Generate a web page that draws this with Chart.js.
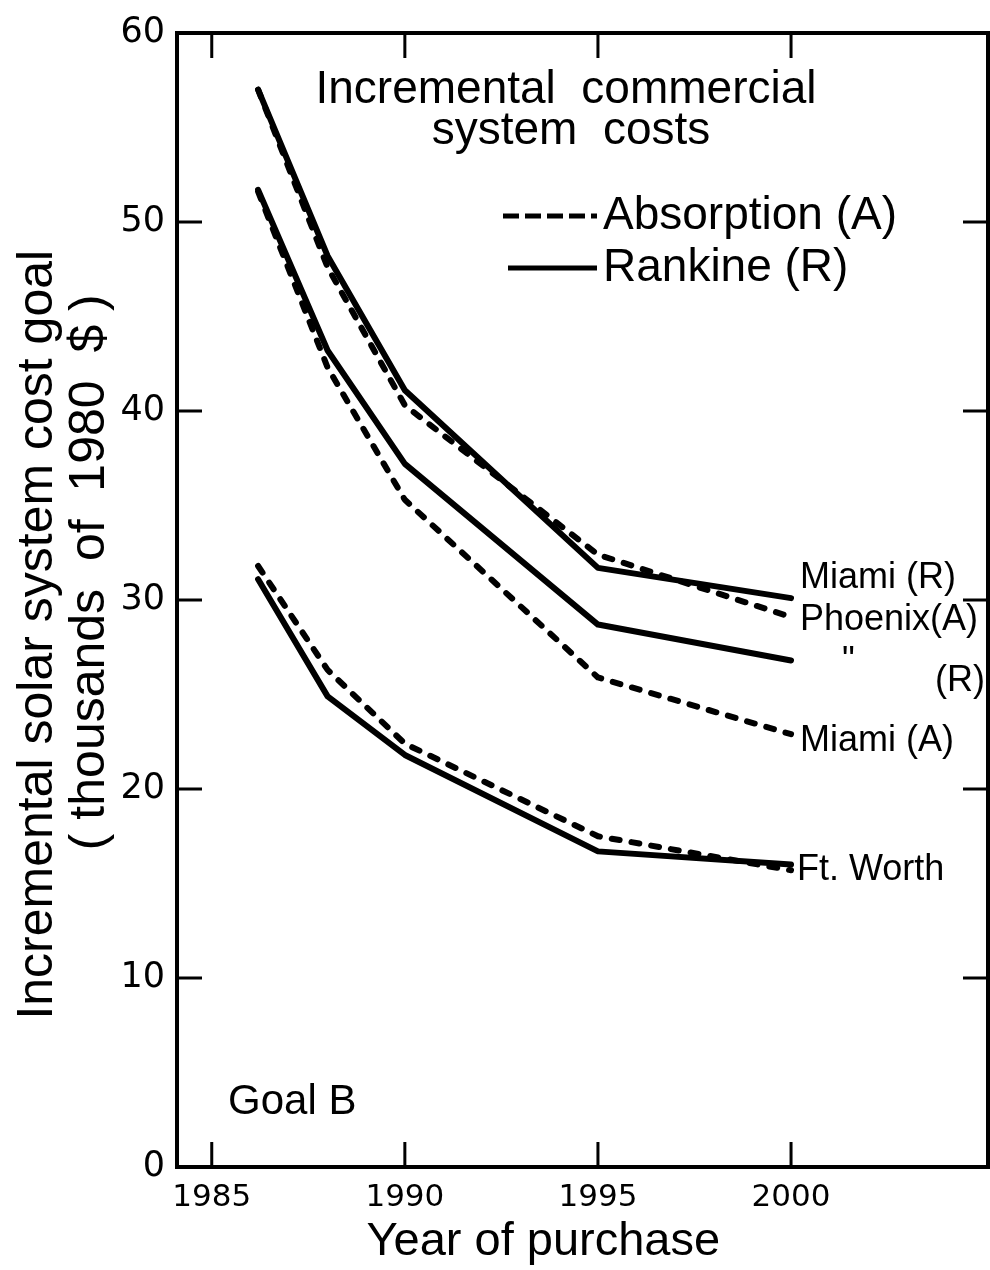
<!DOCTYPE html>
<html>
<head>
<meta charset="utf-8">
<script src="https://cdn.jsdelivr.net/npm/chart.js@4/dist/chart.umd.min.js"></script>
<style>
  html, body { margin: 0; padding: 0; background: #fff; }
  canvas { display: block; }
</style>
</head>
<body>
<canvas id="costChart" width="990" height="1270"></canvas>
<script>
// data (thousands of 1980 $)
const years = [1986.2, 1988, 1990, 1995, 2000];
const miamiR = [57.0, 48.2, 41.1, 31.7, 30.1];
const phoenixA = [57.0, 47.6, 40.3, 32.4, 29.1];
const phoenixR = [51.7, 43.2, 37.2, 28.7, 26.8];
const miamiA = [51.6, 42.3, 35.3, 25.9, 22.9];
const ftWorthA = [31.8, 26.3, 22.4, 17.5, 15.7];
const ftWorthR = [31.1, 24.9, 21.8, 16.7, 16.0];

const xTicks = [1985, 1990, 1995, 2000];
const yTicks = [0, 10, 20, 30, 40, 50, 60];

const FONT = "'Liberation Sans', Arial, sans-serif";
const NUM_FONT = "'DejaVu Sans', sans-serif";
const INK = '#000';

function pts(vals) {
  return vals.map((v, i) => ({ x: years[i], y: v }));
}

function series(label, vals, dashed) {
  return {
    label: label,
    data: pts(vals),
    borderColor: INK,
    borderWidth: 6,
    borderDash: dashed ? [8, 12] : [],
    borderCapStyle: 'round',
    borderJoinStyle: 'round',
    pointRadius: 0,
    tension: 0,
    fill: false
  };
}

// frame, inward ticks, legend and line labels
const decor = {
  id: 'decor',
  beforeDraw(chart) {
    const ctx = chart.ctx;
    ctx.save();
    ctx.fillStyle = '#fff';
    ctx.fillRect(0, 0, chart.width, chart.height);
    ctx.restore();
  },
  afterDraw(chart) {
    const ctx = chart.ctx;
    const a = chart.chartArea;
    const xs = chart.scales.x, ys = chart.scales.y;
    const tl = 25;
    ctx.save();
    ctx.strokeStyle = INK;
    ctx.lineWidth = 4;
    ctx.strokeRect(a.left, a.top, a.right - a.left, a.bottom - a.top);

    ctx.lineWidth = 3;
    ctx.beginPath();
    xTicks.forEach(v => {
      const px = xs.getPixelForValue(v);
      ctx.moveTo(px, a.bottom); ctx.lineTo(px, a.bottom - tl);
      ctx.moveTo(px, a.top); ctx.lineTo(px, a.top + tl);
    });
    yTicks.forEach(v => {
      const py = ys.getPixelForValue(v);
      ctx.moveTo(a.left, py); ctx.lineTo(a.left + tl, py);
      ctx.moveTo(a.right, py); ctx.lineTo(a.right - tl, py);
    });
    ctx.stroke();

    ctx.fillStyle = INK;
    ctx.textBaseline = 'middle';

    // heading
    ctx.textAlign = 'center';
    ctx.font = `46px ${FONT}`;
    ctx.fillText('Incremental  commercial', 566, 90);
    ctx.fillText('system  costs', 571, 131);

    // legend
    ctx.lineWidth = 5;
    ctx.lineCap = 'butt';
    ctx.setLineDash([16, 6]);
    ctx.beginPath(); ctx.moveTo(503, 216); ctx.lineTo(597, 216); ctx.stroke();
    ctx.setLineDash([]);
    ctx.beginPath(); ctx.moveTo(508, 268); ctx.lineTo(597, 268); ctx.stroke();
    ctx.textAlign = 'left';
    ctx.fillText('Absorption (A)', 603, 216);
    ctx.fillText('Rankine (R)', 603, 268);

    // curve labels
    ctx.font = `36px ${FONT}`;
    ctx.fillText('Miami (R)', 800, 578);
    ctx.fillText('Phoenix(A)', 800, 620);
    ctx.fillText('"', 842, 662);
    ctx.fillText('(R)', 935, 681);
    ctx.fillText('Miami (A)', 800, 741);
    ctx.fillText('Ft. Worth', 797, 870);

    ctx.font = `42px ${FONT}`;
    ctx.fillText('Goal B', 228, 1102);
    ctx.restore();
  }
};

new Chart(document.getElementById('costChart').getContext('2d'), {
  type: 'line',
  data: {
    datasets: [
      series('Miami (R)', miamiR, false),
      series('Phoenix (A)', phoenixA, true),
      series('Phoenix (R)', phoenixR, false),
      series('Miami (A)', miamiA, true),
      series('Ft. Worth (A)', ftWorthA, true),
      series('Ft. Worth (R)', ftWorthR, false)
    ]
  },
  options: {
    responsive: false,
    animation: false,
    layout: { padding: { top: 22, right: 2, left: 0, bottom: 0 } },
    plugins: { legend: { display: false }, tooltip: { enabled: false } },
    scales: {
      x: {
        type: 'linear',
        min: 1984.1,
        max: 2005.1,
        afterBuildTicks: s => { s.ticks = xTicks.map(v => ({ value: v })); },
        afterFit: s => { s.height = 103; },
        grid: { display: false, drawTicks: false },
        border: { display: false },
        ticks: {
          color: INK,
          font: { family: NUM_FONT, size: 31 },
          padding: 12,
          maxRotation: 0,
          autoSkip: false,
          callback: v => String(v)
        },
        title: {
          display: true,
          text: 'Year of purchase      ',
          color: INK,
          font: { family: FONT, size: 47 },
          padding: { top: 0, bottom: 0 }
        }
      },
      y: {
        min: 0,
        max: 60,
        afterBuildTicks: s => { s.ticks = yTicks.map(v => ({ value: v })); },
        afterFit: s => { s.width = 177; },
        grid: { display: false, drawTicks: false },
        border: { display: false },
        ticks: {
          color: INK,
          font: { family: NUM_FONT, size: 35 },
          padding: 12
        },
        title: {
          display: true,
          text: ['Incremental solar system cost goal     ', '    ( thousands  of  1980  $ )'],
          color: INK,
          font: { family: FONT, size: 50, lineHeight: 1.04 },
          padding: { top: 12, bottom: 0 }
        }
      }
    }
  },
  plugins: [decor]
});
</script>
</body>
</html>
